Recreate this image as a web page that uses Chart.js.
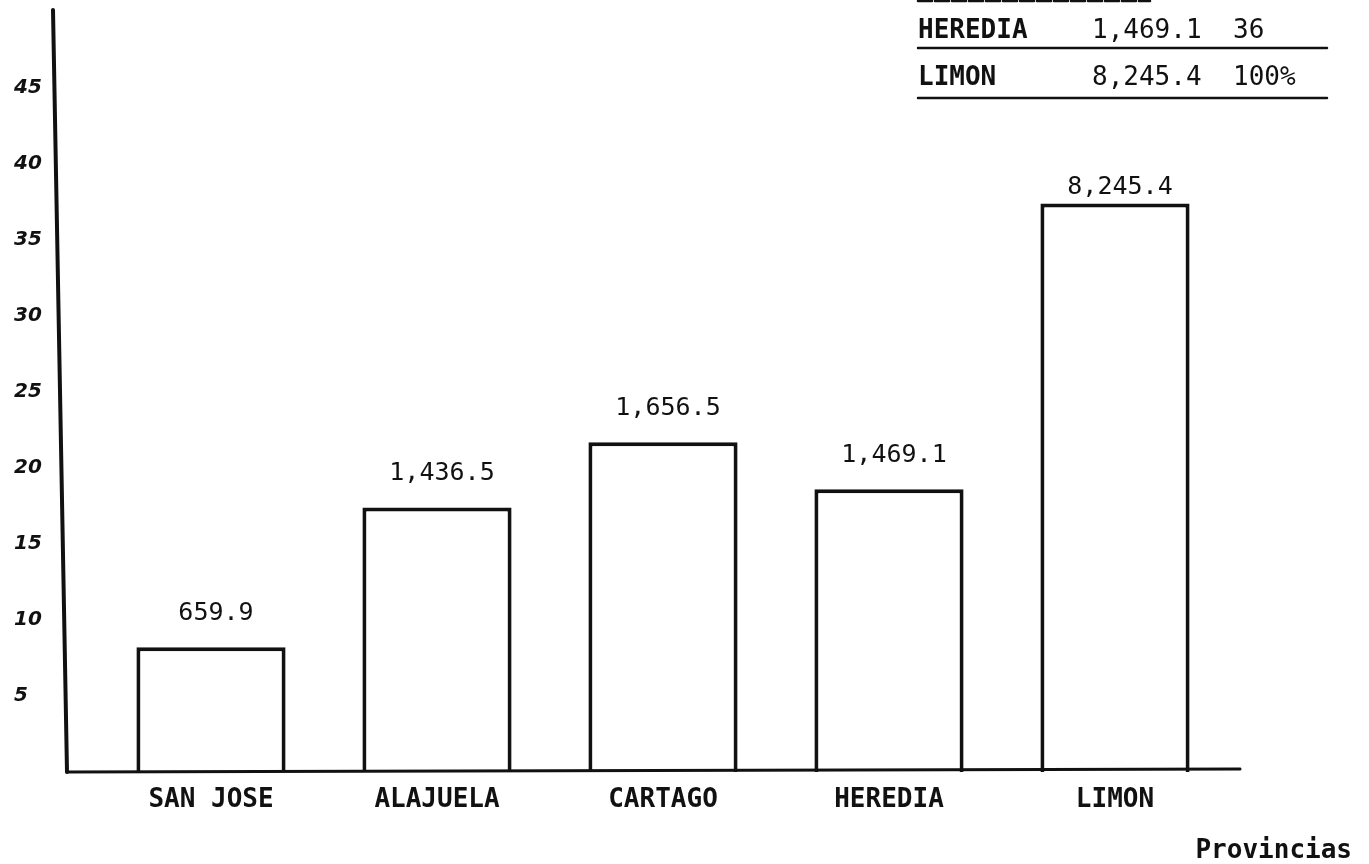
<!DOCTYPE html>
<html>
<head>
<meta charset="utf-8">
<script src="https://cdn.jsdelivr.net/npm/chart.js@4.4.0/dist/chart.umd.min.js"></script>
<style>
  html, body { margin: 0; padding: 0; background: #fff; }
</style>
</head>
<body>
<canvas id="provChart" width="1369" height="864"></canvas>
<script>
const provincias = ['SAN JOSE', 'ALAJUELA', 'CARTAGO', 'HEREDIA', 'LIMON'];
const porcentajes = [8.2, 17.4, 21.7, 18.6, 37.4];
const montos = [659.9, 1436.5, 1656.5, 1469.1, 8245.4];
const yTicks = [5, 10, 15, 20, 25, 30, 35, 40, 45];

const tablaNombres = ['HEREDIA', 'LIMON'];
const tablaMontos = [1469.1, 8245.4];
const tablaPorc = ['36', '100%'];
const tituloX = 'Provincias';

const MONO = '"DejaVu Sans Mono", "Liberation Mono", monospace';
const INK = '#111';
const fmt = v => v.toLocaleString('en-US', { minimumFractionDigits: 1, maximumFractionDigits: 1 });

// hand-drawn axes, value labels, the summary table and the axis title
const extras = {
    id: 'extras',
    afterDatasetsDraw(chart) {
        const { ctx, chartArea: a } = chart;
        ctx.save();
        ctx.strokeStyle = INK;
        ctx.fillStyle = INK;
        ctx.lineCap = 'round';

        ctx.lineWidth = 4;
        ctx.beginPath();
        ctx.moveTo(a.left - 45, 10);
        ctx.lineTo(a.left - 31, a.bottom);
        ctx.stroke();

        ctx.lineWidth = 3;
        ctx.beginPath();
        ctx.moveTo(a.left - 31, a.bottom);
        ctx.lineTo(a.right + 12, a.bottom - 3);
        ctx.stroke();

        ctx.font = '25px ' + MONO;
        ctx.textAlign = 'center';
        ctx.textBaseline = 'middle';
        chart.getDatasetMeta(0).data.forEach((bar, i) => {
            const lift = i === montos.length - 1 ? 16 : 34;
            ctx.fillText(fmt(montos[i]), bar.x + 5, bar.y - lift);
        });

        // table, top right
        ctx.lineWidth = 2.5;
        ctx.setLineDash([14, 3]);
        ctx.beginPath();
        ctx.moveTo(918, 1);
        ctx.lineTo(1150, 1);
        ctx.stroke();
        ctx.setLineDash([]);
        ctx.textAlign = 'left';
        tablaNombres.forEach((n, i) => {
            const y = 31 + i * 47;
            ctx.font = 'bold 26px ' + MONO;
            ctx.fillText(n, 918, y);
            ctx.font = '26px ' + MONO;
            ctx.fillText(fmt(tablaMontos[i]), 1092, y);
            ctx.fillText(tablaPorc[i], 1233, y);
            ctx.beginPath();
            ctx.moveTo(918, y + 17 + i * 3);
            ctx.lineTo(1327, y + 17 + i * 3);
            ctx.stroke();
        });

        ctx.font = 'bold 26px ' + MONO;
        ctx.textAlign = 'right';
        ctx.fillText(tituloX, 1352, 851);
        ctx.restore();
    }
};

const ctx = document.getElementById('provChart').getContext('2d');
new Chart(ctx, {
    type: 'bar',
    data: {
        labels: provincias,
        datasets: [{
            data: porcentajes,
            backgroundColor: '#fff',
            borderColor: INK,
            borderWidth: 4,
            barPercentage: 0.66,
            categoryPercentage: 1
        }]
    },
    options: {
        responsive: false,
        animation: false,
        devicePixelRatio: 1,
        layout: { padding: { top: 12, right: 141, left: 14, bottom: 0 } },
        scales: {
            x: {
                grid: { display: false, drawTicks: false },
                border: { display: false },
                ticks: {
                    color: INK,
                    padding: 13,
                    maxRotation: 0,
                    autoSkip: false,
                    font: { family: MONO, size: 26, weight: 'bold' }
                },
                afterFit: s => { s.height = 92; }
            },
            y: {
                min: 0,
                max: 50,
                grid: { display: false, drawTicks: false },
                border: { display: false },
                ticks: {
                    color: INK,
                    padding: 0,
                    crossAlign: 'far',
                    font: { family: '"DejaVu Sans"', size: 20, style: 'italic', weight: 'bold' }
                },
                afterBuildTicks: s => { s.ticks = yTicks.map(v => ({ value: v })); },
                afterFit: s => { s.width = 84; }
            }
        },
        plugins: {
            legend: { display: false },
            tooltip: { enabled: false }
        }
    },
    plugins: [extras]
});
</script>
</body>
</html>
